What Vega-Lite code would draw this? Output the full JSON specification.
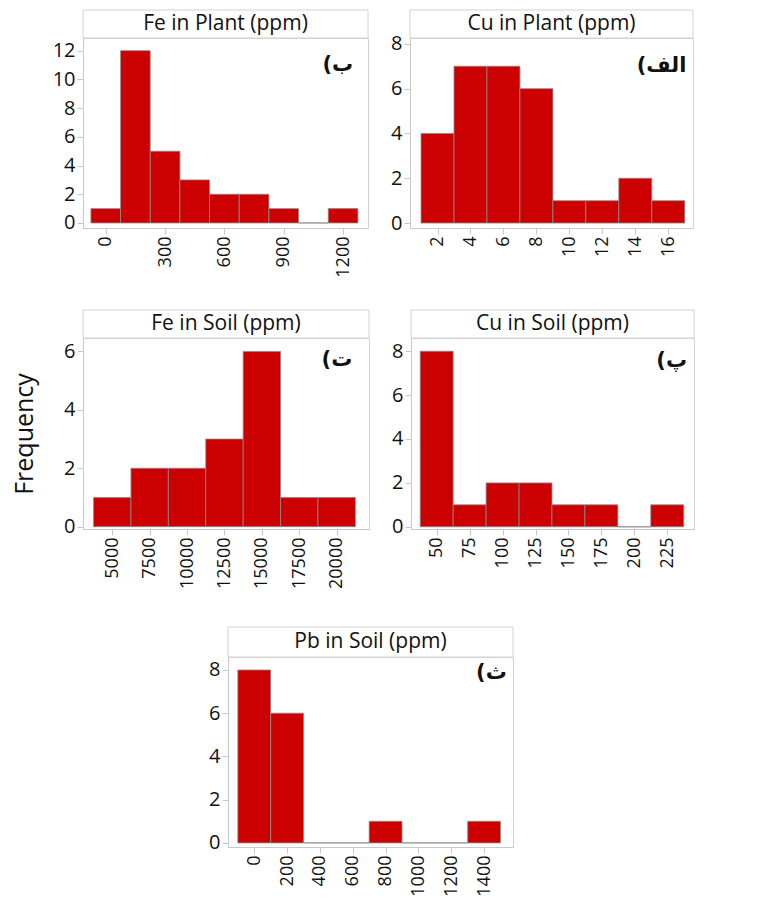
{
  "$schema": "https://vega.github.io/schema/vega-lite/v6.json",
  "padding": {"left": 12, "top": 9, "right": 5, "bottom": 5},
  "background": "white",
  "config": {
    "font": "Open Sans",
    "view": {"stroke": "#d2d2d2", "strokeWidth": 1},
    "axis": {
      "domainColor": "#c8c8c8",
      "tickColor": "#c8c8c8",
      "labelColor": "#111111",
      "labelFontSize": 18,
      "labelFont": "Open Sans",
      "grid": false,
      "tickSize": 6,
      "labelPadding": 2,
      "titleFontWeight": "normal",
      "titleColor": "#111111"
    },
    "axisY": {"labelFontSize": 20},
    "text": {"color": "#111111"}
  },
  "spacing": 31,
  "vconcat": [
    {
      "spacing": 21,
      "hconcat": [
        {
          "spacing": 0, "bounds": "flush",
          "vconcat": [
            {"width": 285, "height": 28, "data": {"values": [{"t": "Fe in Plant (ppm)"}]}, "layer": [
              {"mark": {"type": "rect", "fill": "white", "stroke": "#d2d2d2"}, "encoding": {}},
              {"mark": {"type": "text", "fontSize": 21}, "encoding": {"text": {"field": "t"}}}]},
            {"width": 285, "height": 190, "layer": [
              {"data": {"values": [
                {"lo": -75, "hi": 75, "count": 1}, {"lo": 75, "hi": 225, "count": 12}, {"lo": 225, "hi": 375, "count": 5},
                {"lo": 375, "hi": 525, "count": 3}, {"lo": 525, "hi": 675, "count": 2}, {"lo": 675, "hi": 825, "count": 2},
                {"lo": 825, "hi": 975, "count": 1}, {"lo": 975, "hi": 1125, "count": 0}, {"lo": 1125, "hi": 1275, "count": 1}]},
               "mark": {"type": "rect", "fill": "#cc0000", "stroke": "#8a8a8a", "strokeWidth": 0.8},
               "encoding": {
                 "x": {"field": "lo", "type": "quantitative", "scale": {"domain": [-115, 1326], "nice": false, "zero": false}, "axis": {"values": [0, 300, 600, 900, 1200], "labelAngle": -90, "title": null, "format": "d", "labelOverlap": false}},
                 "x2": {"field": "hi"},
                 "y": {"field": "count", "type": "quantitative", "scale": {"domain": [-0.35, 12.88], "nice": false, "zero": false}, "axis": {"values": [0, 2, 4, 6, 8, 10, 12], "title": null, "labelOverlap": false}}}},
              {"data": {"values": [{"tag": "(ب"}]},
               "mark": {"type": "text", "font": "DejaVu Sans", "fontWeight": "bold", "fontSize": 21, "align": "right", "baseline": "middle"},
               "encoding": {
                 "x": {"datum": 1251, "type": "quantitative", "axis": {"values": [0, 300, 600, 900, 1200], "labelAngle": -90, "title": null, "format": "d", "labelOverlap": false}},
                 "y": {"datum": 11.0, "type": "quantitative", "axis": {"values": [0, 2, 4, 6, 8, 10, 12], "title": null, "labelOverlap": false}},
                 "text": {"field": "tag"}}}
            ]}
          ]
        },
        {
          "spacing": 0, "bounds": "flush",
          "vconcat": [
            {"width": 283, "height": 28, "data": {"values": [{"t": "Cu in Plant (ppm)"}]}, "layer": [
              {"mark": {"type": "rect", "fill": "white", "stroke": "#d2d2d2"}, "encoding": {}},
              {"mark": {"type": "text", "fontSize": 21}, "encoding": {"text": {"field": "t"}}}]},
            {"width": 283, "height": 190, "layer": [
              {"data": {"values": [
                {"lo": 1, "hi": 3, "count": 4}, {"lo": 3, "hi": 5, "count": 7}, {"lo": 5, "hi": 7, "count": 7},
                {"lo": 7, "hi": 9, "count": 6}, {"lo": 9, "hi": 11, "count": 1}, {"lo": 11, "hi": 13, "count": 1},
                {"lo": 13, "hi": 15, "count": 2}, {"lo": 15, "hi": 17, "count": 1}]},
               "mark": {"type": "rect", "fill": "#cc0000", "stroke": "#8a8a8a", "strokeWidth": 0.8},
               "encoding": {
                 "x": {"field": "lo", "type": "quantitative", "scale": {"domain": [0.33, 17.5], "nice": false, "zero": false}, "axis": {"values": [2, 4, 6, 8, 10, 12, 14, 16], "labelAngle": -90, "title": null, "format": "d", "labelOverlap": false}},
                 "x2": {"field": "hi"},
                 "y": {"field": "count", "type": "quantitative", "scale": {"domain": [-0.22, 8.26], "nice": false, "zero": false}, "axis": {"values": [0, 2, 4, 6, 8], "title": null, "labelOverlap": false}}}},
              {"data": {"values": [{"tag": "(الف"}]},
               "mark": {"type": "text", "font": "DejaVu Sans", "fontWeight": "bold", "fontSize": 21, "align": "right", "baseline": "middle"},
               "encoding": {
                 "x": {"datum": 17.1, "type": "quantitative", "axis": {"values": [2, 4, 6, 8, 10, 12, 14, 16], "labelAngle": -90, "title": null, "format": "d", "labelOverlap": false}},
                 "y": {"datum": 7.03, "type": "quantitative", "axis": {"values": [0, 2, 4, 6, 8], "title": null, "labelOverlap": false}},
                 "text": {"field": "tag"}}}
            ]}
          ]
        }
      ]
    },
    {
      "spacing": 37,
      "vconcat": [
        {
          "spacing": 21,
          "hconcat": [
            {
              "spacing": 0, "bounds": "flush",
              "vconcat": [
                {"width": 286, "height": 28, "data": {"values": [{"t": "Fe in Soil (ppm)"}]}, "layer": [
                  {"mark": {"type": "rect", "fill": "white", "stroke": "#d2d2d2"}, "encoding": {}},
                  {"mark": {"type": "text", "fontSize": 21}, "encoding": {"text": {"field": "t"}}}]},
                {"width": 286, "height": 191, "layer": [
                  {"data": {"values": [
                    {"lo": 3750, "hi": 6250, "count": 1}, {"lo": 6250, "hi": 8750, "count": 2}, {"lo": 8750, "hi": 11250, "count": 2},
                    {"lo": 11250, "hi": 13750, "count": 3}, {"lo": 13750, "hi": 16250, "count": 6}, {"lo": 16250, "hi": 18750, "count": 1},
                    {"lo": 18750, "hi": 21250, "count": 1}]},
                   "mark": {"type": "rect", "fill": "#cc0000", "stroke": "#8a8a8a", "strokeWidth": 0.8},
                   "encoding": {
                     "x": {"field": "lo", "type": "quantitative", "scale": {"domain": [3045, 22160], "nice": false, "zero": false}, "axis": {"values": [5000, 7500, 10000, 12500, 15000, 17500, 20000], "labelAngle": -90, "title": null, "format": "d", "labelOverlap": false}},
                     "x2": {"field": "hi"},
                     "y": {"field": "count", "type": "quantitative", "scale": {"domain": [-0.08, 6.46], "nice": false, "zero": false}, "axis": {"values": [0, 2, 4, 6], "title": "Frequency", "titleFontSize": 25, "titlePadding": 26, "labelOverlap": false}}}},
                  {"data": {"values": [{"tag": "(ت"}]},
                   "mark": {"type": "text", "font": "DejaVu Sans", "fontWeight": "bold", "fontSize": 21, "align": "right", "baseline": "middle"},
                   "encoding": {
                     "x": {"datum": 21043, "type": "quantitative", "axis": {"values": [5000, 7500, 10000, 12500, 15000, 17500, 20000], "labelAngle": -90, "title": null, "format": "d", "labelOverlap": false}},
                     "y": {"datum": 5.7, "type": "quantitative", "axis": {"values": [0, 2, 4, 6], "title": "Frequency", "titleFontSize": 25, "titlePadding": 26, "labelOverlap": false}},
                     "text": {"field": "tag"}}}
                ]}
              ]
            },
            {
              "spacing": 0, "bounds": "flush",
              "vconcat": [
                {"width": 283, "height": 28, "data": {"values": [{"t": "Cu in Soil (ppm)"}]}, "layer": [
                  {"mark": {"type": "rect", "fill": "white", "stroke": "#d2d2d2"}, "encoding": {}},
                  {"mark": {"type": "text", "fontSize": 21}, "encoding": {"text": {"field": "t"}}}]},
                {"width": 283, "height": 191, "layer": [
                  {"data": {"values": [
                    {"lo": 37.5, "hi": 62.5, "count": 8}, {"lo": 62.5, "hi": 87.5, "count": 1}, {"lo": 87.5, "hi": 112.5, "count": 2},
                    {"lo": 112.5, "hi": 137.5, "count": 2}, {"lo": 137.5, "hi": 162.5, "count": 1}, {"lo": 162.5, "hi": 187.5, "count": 1},
                    {"lo": 187.5, "hi": 212.5, "count": 0}, {"lo": 212.5, "hi": 237.5, "count": 1}]},
                   "mark": {"type": "rect", "fill": "#cc0000", "stroke": "#8a8a8a", "strokeWidth": 0.8},
                   "encoding": {
                     "x": {"field": "lo", "type": "quantitative", "scale": {"domain": [30.5, 245.3], "nice": false, "zero": false}, "axis": {"values": [50, 75, 100, 125, 150, 175, 200, 225], "labelAngle": -90, "title": null, "format": "d", "labelOverlap": false}},
                     "x2": {"field": "hi"},
                     "y": {"field": "count", "type": "quantitative", "scale": {"domain": [-0.1, 8.6], "nice": false, "zero": false}, "axis": {"values": [0, 2, 4, 6, 8], "title": null, "labelOverlap": false}}}},
                  {"data": {"values": [{"tag": "(پ"}]},
                   "mark": {"type": "text", "font": "DejaVu Sans", "fontWeight": "bold", "fontSize": 21, "align": "right", "baseline": "middle"},
                   "encoding": {
                     "x": {"datum": 240, "type": "quantitative", "axis": {"values": [50, 75, 100, 125, 150, 175, 200, 225], "labelAngle": -90, "title": null, "format": "d", "labelOverlap": false}},
                     "y": {"datum": 7.56, "type": "quantitative", "axis": {"values": [0, 2, 4, 6, 8], "title": null, "labelOverlap": false}},
                     "text": {"field": "tag"}}}
                ]}
              ]
            }
          ]
        },
        {
          "spacing": 20,
          "hconcat": [
            {"width": 105, "height": 10, "view": {"stroke": null}, "data": {"values": [{"t": ""}]}, "mark": {"type": "text"}, "encoding": {"text": {"field": "t"}}},
            {
              "spacing": 0, "bounds": "flush",
              "vconcat": [
                {"width": 285, "height": 30, "data": {"values": [{"t": "Pb in Soil (ppm)"}]}, "layer": [
                  {"mark": {"type": "rect", "fill": "white", "stroke": "#d2d2d2"}, "encoding": {}},
                  {"mark": {"type": "text", "fontSize": 21}, "encoding": {"text": {"field": "t"}}}]},
                {"width": 285, "height": 190, "layer": [
                  {"data": {"values": [
                    {"lo": -100, "hi": 100, "count": 8}, {"lo": 100, "hi": 300, "count": 6}, {"lo": 300, "hi": 500, "count": 0},
                    {"lo": 500, "hi": 700, "count": 0}, {"lo": 700, "hi": 900, "count": 1}, {"lo": 900, "hi": 1100, "count": 0},
                    {"lo": 1100, "hi": 1300, "count": 0}, {"lo": 1300, "hi": 1500, "count": 1}]},
                   "mark": {"type": "rect", "fill": "#cc0000", "stroke": "#8a8a8a", "strokeWidth": 0.8},
                   "encoding": {
                     "x": {"field": "lo", "type": "quantitative", "scale": {"domain": [-160, 1576], "nice": false, "zero": false}, "axis": {"values": [0, 200, 400, 600, 800, 1000, 1200, 1400], "labelAngle": -90, "title": null, "format": "d", "labelOverlap": false}},
                     "x2": {"field": "hi"},
                     "y": {"field": "count", "type": "quantitative", "scale": {"domain": [-0.19, 8.6], "nice": false, "zero": false}, "axis": {"values": [0, 2, 4, 6, 8], "title": null, "labelOverlap": false}}}},
                  {"data": {"values": [{"tag": "(ث"}]},
                   "mark": {"type": "text", "font": "DejaVu Sans", "fontWeight": "bold", "fontSize": 21, "align": "right", "baseline": "middle"},
                   "encoding": {
                     "x": {"datum": 1538, "type": "quantitative", "axis": {"values": [0, 200, 400, 600, 800, 1000, 1200, 1400], "labelAngle": -90, "title": null, "format": "d", "labelOverlap": false}},
                     "y": {"datum": 7.85, "type": "quantitative", "axis": {"values": [0, 2, 4, 6, 8], "title": null, "labelOverlap": false}},
                     "text": {"field": "tag"}}}
                ]}
              ]
            }
          ]
        }
      ]
    }
  ]
}
